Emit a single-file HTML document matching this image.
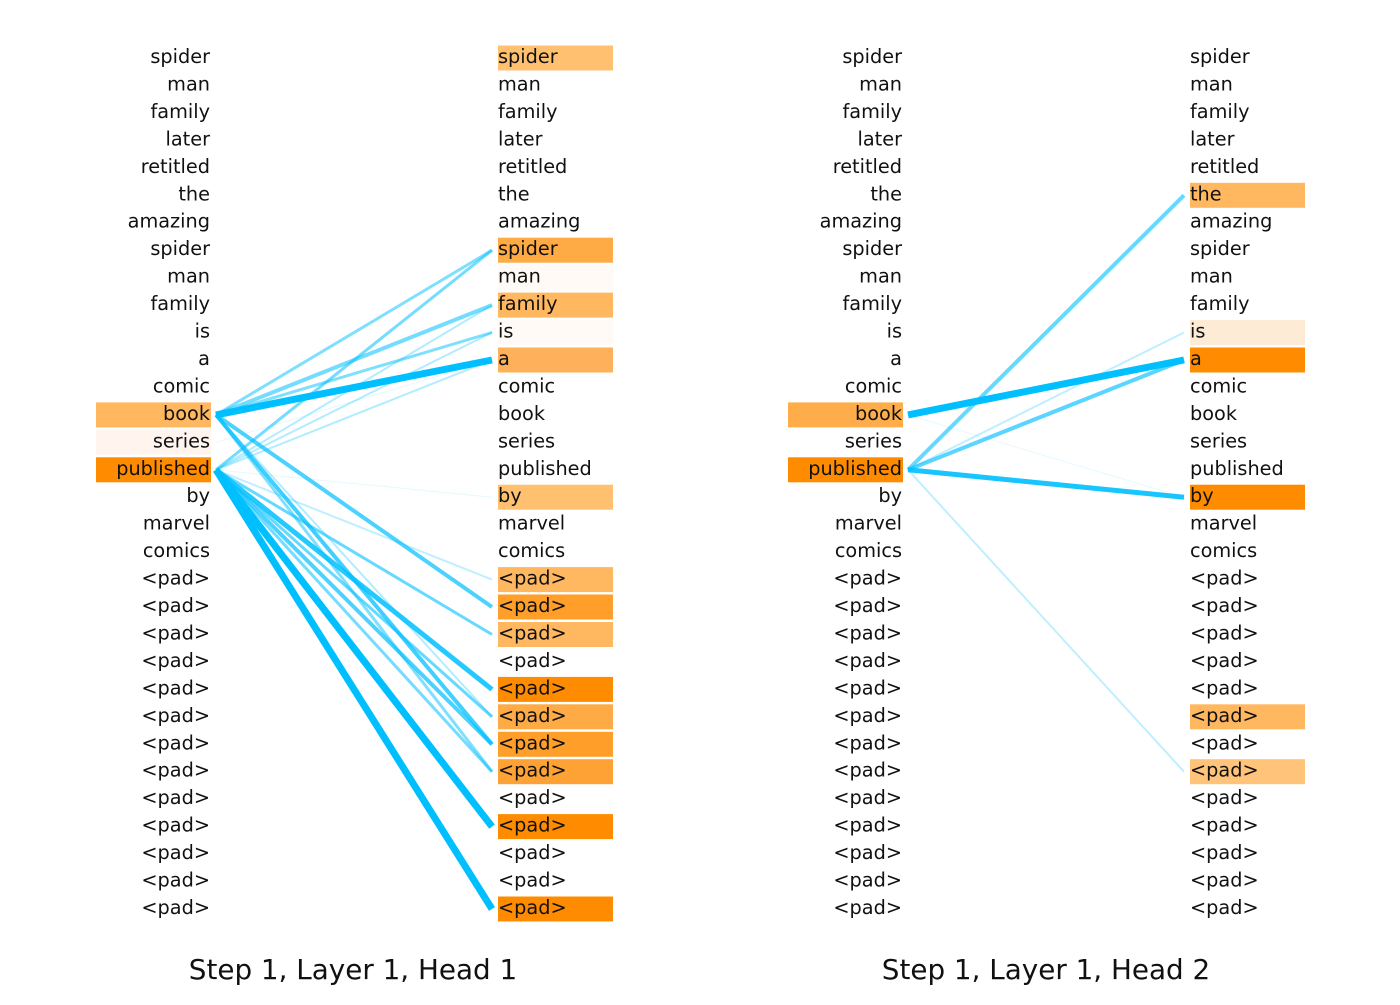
<!DOCTYPE html>
<html><head><meta charset="utf-8"><style>
html,body{margin:0;padding:0;background:#fff;}
svg text{font-family:"DejaVu Sans","Liberation Sans",sans-serif;font-size:19.3px;fill:#111;}
</style></head><body>
<svg width="1400" height="1000" viewBox="0 0 1400 1000" xmlns="http://www.w3.org/2000/svg">
<rect x="96" y="402.4" width="115" height="25" fill="#ffb860"/>
<rect x="96" y="429.8" width="115" height="25" fill="#fff5ee"/>
<rect x="96" y="457.3" width="115" height="25" fill="#ff8c00"/>
<rect x="498" y="45.5" width="115" height="25" fill="#ffc070"/>
<rect x="498" y="237.7" width="115" height="25" fill="#ffab45"/>
<rect x="498" y="265.1" width="115" height="25" fill="#fffaf5"/>
<rect x="498" y="292.6" width="115" height="25" fill="#ffb860"/>
<rect x="498" y="320" width="115" height="25" fill="#fffaf5"/>
<rect x="498" y="347.5" width="115" height="25" fill="#ffb05a"/>
<rect x="498" y="484.7" width="115" height="25" fill="#ffc070"/>
<rect x="498" y="567.1" width="115" height="25" fill="#ffb860"/>
<rect x="498" y="594.5" width="115" height="25" fill="#ff9f2a"/>
<rect x="498" y="622" width="115" height="25" fill="#ffb860"/>
<rect x="498" y="676.9" width="115" height="25" fill="#ff8c00"/>
<rect x="498" y="704.3" width="115" height="25" fill="#ffab45"/>
<rect x="498" y="731.8" width="115" height="25" fill="#ff9f2a"/>
<rect x="498" y="759.2" width="115" height="25" fill="#ffa235"/>
<rect x="498" y="814.1" width="115" height="25" fill="#ff8c00"/>
<rect x="498" y="896.5" width="115" height="25" fill="#ff8c00"/>
<g stroke="#00bfff">
<line x1="216" y1="414.9" x2="492" y2="250.2" stroke-width="3" stroke-opacity=".5"/>
<line x1="216" y1="414.9" x2="492" y2="305.1" stroke-width="4" stroke-opacity=".55"/>
<line x1="216" y1="414.9" x2="492" y2="332.5" stroke-width="3" stroke-opacity=".5"/>
<line x1="216" y1="414.9" x2="492" y2="360" stroke-width="7" stroke-opacity="1"/>
<line x1="216" y1="414.9" x2="492" y2="607" stroke-width="4" stroke-opacity=".7"/>
<line x1="216" y1="414.9" x2="492" y2="744.3" stroke-width="4" stroke-opacity=".75"/>
<line x1="216" y1="414.9" x2="492" y2="771.7" stroke-width="3" stroke-opacity=".5"/>
<line x1="216" y1="414.9" x2="492" y2="716.8" stroke-width="2" stroke-opacity=".3"/>
<line x1="216" y1="469.8" x2="492" y2="250.2" stroke-width="3" stroke-opacity=".55"/>
<line x1="216" y1="469.8" x2="492" y2="305.1" stroke-width="2" stroke-opacity=".3"/>
<line x1="216" y1="469.8" x2="492" y2="332.5" stroke-width="2" stroke-opacity=".3"/>
<line x1="216" y1="469.8" x2="492" y2="360" stroke-width="2" stroke-opacity=".3"/>
<line x1="216" y1="469.8" x2="492" y2="497.2" stroke-width="1" stroke-opacity=".1"/>
<line x1="216" y1="469.8" x2="492" y2="579.6" stroke-width="2" stroke-opacity=".25"/>
<line x1="216" y1="469.8" x2="492" y2="634.5" stroke-width="3" stroke-opacity=".6"/>
<line x1="216" y1="469.8" x2="492" y2="689.4" stroke-width="5" stroke-opacity=".85"/>
<line x1="216" y1="469.8" x2="492" y2="716.8" stroke-width="3" stroke-opacity=".6"/>
<line x1="216" y1="469.8" x2="492" y2="744.3" stroke-width="4" stroke-opacity=".7"/>
<line x1="216" y1="469.8" x2="492" y2="771.7" stroke-width="3" stroke-opacity=".55"/>
<line x1="216" y1="469.8" x2="492" y2="826.6" stroke-width="7" stroke-opacity="1"/>
<line x1="216" y1="469.8" x2="492" y2="909" stroke-width="7" stroke-opacity="1"/>
<line x1="216" y1="442.3" x2="492" y2="360" stroke-width="1" stroke-opacity=".1"/>
</g>
<rect x="788" y="402.4" width="115" height="25" fill="#ffad4a"/>
<rect x="788" y="457.3" width="115" height="25" fill="#ff8c00"/>
<rect x="1190" y="182.8" width="115" height="25" fill="#ffb860"/>
<rect x="1190" y="320" width="115" height="25" fill="#fdebd5"/>
<rect x="1190" y="347.5" width="115" height="25" fill="#ff8c00"/>
<rect x="1190" y="484.7" width="115" height="25" fill="#ff8c00"/>
<rect x="1190" y="704.3" width="115" height="25" fill="#ffb860"/>
<rect x="1190" y="759.2" width="115" height="25" fill="#ffc47a"/>
<g stroke="#00bfff">
<line x1="908" y1="414.9" x2="1184" y2="360" stroke-width="7" stroke-opacity="1"/>
<line x1="908" y1="414.9" x2="1184" y2="497.2" stroke-width="1" stroke-opacity=".1"/>
<line x1="908" y1="469.8" x2="1184" y2="195.3" stroke-width="4" stroke-opacity=".6"/>
<line x1="908" y1="469.8" x2="1184" y2="332.5" stroke-width="2" stroke-opacity=".25"/>
<line x1="908" y1="469.8" x2="1184" y2="360" stroke-width="4" stroke-opacity=".65"/>
<line x1="908" y1="469.8" x2="1184" y2="497.2" stroke-width="5" stroke-opacity=".9"/>
<line x1="908" y1="469.8" x2="1184" y2="771.7" stroke-width="2" stroke-opacity=".25"/>
</g>
<text text-anchor="end"><tspan x="210" y="63">spider</tspan><tspan x="210" dy="27.45">man</tspan><tspan x="210" dy="27.45">family</tspan><tspan x="210" dy="27.45">later</tspan><tspan x="210" dy="27.45">retitled</tspan><tspan x="210" dy="27.45">the</tspan><tspan x="210" dy="27.45">amazing</tspan><tspan x="210" dy="27.45">spider</tspan><tspan x="210" dy="27.45">man</tspan><tspan x="210" dy="27.45">family</tspan><tspan x="210" dy="27.45">is</tspan><tspan x="210" dy="27.45">a</tspan><tspan x="210" dy="27.45">comic</tspan><tspan x="210" dy="27.45">book</tspan><tspan x="210" dy="27.45">series</tspan><tspan x="210" dy="27.45">published</tspan><tspan x="210" dy="27.45">by</tspan><tspan x="210" dy="27.45">marvel</tspan><tspan x="210" dy="27.45">comics</tspan><tspan x="210" dy="27.45">&lt;pad&gt;</tspan><tspan x="210" dy="27.45">&lt;pad&gt;</tspan><tspan x="210" dy="27.45">&lt;pad&gt;</tspan><tspan x="210" dy="27.45">&lt;pad&gt;</tspan><tspan x="210" dy="27.45">&lt;pad&gt;</tspan><tspan x="210" dy="27.45">&lt;pad&gt;</tspan><tspan x="210" dy="27.45">&lt;pad&gt;</tspan><tspan x="210" dy="27.45">&lt;pad&gt;</tspan><tspan x="210" dy="27.45">&lt;pad&gt;</tspan><tspan x="210" dy="27.45">&lt;pad&gt;</tspan><tspan x="210" dy="27.45">&lt;pad&gt;</tspan><tspan x="210" dy="27.45">&lt;pad&gt;</tspan><tspan x="210" dy="27.45">&lt;pad&gt;</tspan></text>
<text><tspan x="498" y="63">spider</tspan><tspan x="498" dy="27.45">man</tspan><tspan x="498" dy="27.45">family</tspan><tspan x="498" dy="27.45">later</tspan><tspan x="498" dy="27.45">retitled</tspan><tspan x="498" dy="27.45">the</tspan><tspan x="498" dy="27.45">amazing</tspan><tspan x="498" dy="27.45">spider</tspan><tspan x="498" dy="27.45">man</tspan><tspan x="498" dy="27.45">family</tspan><tspan x="498" dy="27.45">is</tspan><tspan x="498" dy="27.45">a</tspan><tspan x="498" dy="27.45">comic</tspan><tspan x="498" dy="27.45">book</tspan><tspan x="498" dy="27.45">series</tspan><tspan x="498" dy="27.45">published</tspan><tspan x="498" dy="27.45">by</tspan><tspan x="498" dy="27.45">marvel</tspan><tspan x="498" dy="27.45">comics</tspan><tspan x="498" dy="27.45">&lt;pad&gt;</tspan><tspan x="498" dy="27.45">&lt;pad&gt;</tspan><tspan x="498" dy="27.45">&lt;pad&gt;</tspan><tspan x="498" dy="27.45">&lt;pad&gt;</tspan><tspan x="498" dy="27.45">&lt;pad&gt;</tspan><tspan x="498" dy="27.45">&lt;pad&gt;</tspan><tspan x="498" dy="27.45">&lt;pad&gt;</tspan><tspan x="498" dy="27.45">&lt;pad&gt;</tspan><tspan x="498" dy="27.45">&lt;pad&gt;</tspan><tspan x="498" dy="27.45">&lt;pad&gt;</tspan><tspan x="498" dy="27.45">&lt;pad&gt;</tspan><tspan x="498" dy="27.45">&lt;pad&gt;</tspan><tspan x="498" dy="27.45">&lt;pad&gt;</tspan></text>
<text text-anchor="end"><tspan x="902" y="63">spider</tspan><tspan x="902" dy="27.45">man</tspan><tspan x="902" dy="27.45">family</tspan><tspan x="902" dy="27.45">later</tspan><tspan x="902" dy="27.45">retitled</tspan><tspan x="902" dy="27.45">the</tspan><tspan x="902" dy="27.45">amazing</tspan><tspan x="902" dy="27.45">spider</tspan><tspan x="902" dy="27.45">man</tspan><tspan x="902" dy="27.45">family</tspan><tspan x="902" dy="27.45">is</tspan><tspan x="902" dy="27.45">a</tspan><tspan x="902" dy="27.45">comic</tspan><tspan x="902" dy="27.45">book</tspan><tspan x="902" dy="27.45">series</tspan><tspan x="902" dy="27.45">published</tspan><tspan x="902" dy="27.45">by</tspan><tspan x="902" dy="27.45">marvel</tspan><tspan x="902" dy="27.45">comics</tspan><tspan x="902" dy="27.45">&lt;pad&gt;</tspan><tspan x="902" dy="27.45">&lt;pad&gt;</tspan><tspan x="902" dy="27.45">&lt;pad&gt;</tspan><tspan x="902" dy="27.45">&lt;pad&gt;</tspan><tspan x="902" dy="27.45">&lt;pad&gt;</tspan><tspan x="902" dy="27.45">&lt;pad&gt;</tspan><tspan x="902" dy="27.45">&lt;pad&gt;</tspan><tspan x="902" dy="27.45">&lt;pad&gt;</tspan><tspan x="902" dy="27.45">&lt;pad&gt;</tspan><tspan x="902" dy="27.45">&lt;pad&gt;</tspan><tspan x="902" dy="27.45">&lt;pad&gt;</tspan><tspan x="902" dy="27.45">&lt;pad&gt;</tspan><tspan x="902" dy="27.45">&lt;pad&gt;</tspan></text>
<text><tspan x="1190" y="63">spider</tspan><tspan x="1190" dy="27.45">man</tspan><tspan x="1190" dy="27.45">family</tspan><tspan x="1190" dy="27.45">later</tspan><tspan x="1190" dy="27.45">retitled</tspan><tspan x="1190" dy="27.45">the</tspan><tspan x="1190" dy="27.45">amazing</tspan><tspan x="1190" dy="27.45">spider</tspan><tspan x="1190" dy="27.45">man</tspan><tspan x="1190" dy="27.45">family</tspan><tspan x="1190" dy="27.45">is</tspan><tspan x="1190" dy="27.45">a</tspan><tspan x="1190" dy="27.45">comic</tspan><tspan x="1190" dy="27.45">book</tspan><tspan x="1190" dy="27.45">series</tspan><tspan x="1190" dy="27.45">published</tspan><tspan x="1190" dy="27.45">by</tspan><tspan x="1190" dy="27.45">marvel</tspan><tspan x="1190" dy="27.45">comics</tspan><tspan x="1190" dy="27.45">&lt;pad&gt;</tspan><tspan x="1190" dy="27.45">&lt;pad&gt;</tspan><tspan x="1190" dy="27.45">&lt;pad&gt;</tspan><tspan x="1190" dy="27.45">&lt;pad&gt;</tspan><tspan x="1190" dy="27.45">&lt;pad&gt;</tspan><tspan x="1190" dy="27.45">&lt;pad&gt;</tspan><tspan x="1190" dy="27.45">&lt;pad&gt;</tspan><tspan x="1190" dy="27.45">&lt;pad&gt;</tspan><tspan x="1190" dy="27.45">&lt;pad&gt;</tspan><tspan x="1190" dy="27.45">&lt;pad&gt;</tspan><tspan x="1190" dy="27.45">&lt;pad&gt;</tspan><tspan x="1190" dy="27.45">&lt;pad&gt;</tspan><tspan x="1190" dy="27.45">&lt;pad&gt;</tspan></text>
<text x="353" y="979" text-anchor="middle" style="font-size:27.8px">Step 1, Layer 1, Head 1</text>
<text x="1046" y="979" text-anchor="middle" style="font-size:27.8px">Step 1, Layer 1, Head 2</text>
</svg>
</body></html>
